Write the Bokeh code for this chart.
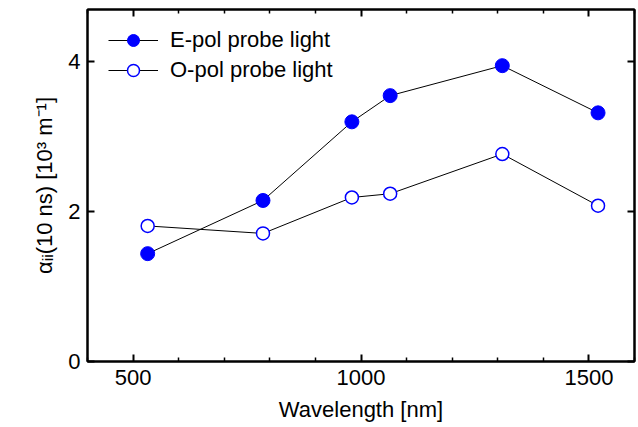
from bokeh.plotting import figure
from bokeh.models import LinearAxis, Range1d, FixedTicker, Legend, LegendItem
from bokeh.embed import file_html
from bokeh.resources import INLINE

wavelength = [532, 785, 980, 1064, 1310, 1520]
e_pol = [1.44, 2.15, 3.20, 3.55, 3.95, 3.32]
o_pol = [1.81, 1.71, 2.19, 2.24, 2.77, 2.08]
x_ticks = [500, 1000, 1500]
x_minor = [400, 600, 700, 800, 900, 1100, 1200, 1300, 1400, 1600]
y_ticks = [0, 2, 4]

FONT = "Liberation Sans"
FS = "22px"
p = figure(width=638, height=427, output_backend="svg", toolbar_location=None,
           x_range=Range1d(400, 1600), y_range=Range1d(0, 4.7),
           min_border_left=87, min_border_right=4, min_border_top=9, min_border_bottom=66)
p.xgrid.visible = False
p.ygrid.visible = False
p.outline_line_color = "black"
p.outline_line_width = 2

def style(ax, labels=True):
    ax.axis_line_width = 2
    ax.major_tick_in = 7
    ax.major_tick_out = 0
    ax.minor_tick_in = 4
    ax.minor_tick_out = 0
    ax.major_tick_line_width = 2
    ax.minor_tick_line_width = 1.5
    ax.major_label_text_font = FONT
    ax.major_label_text_font_size = FS
    ax.major_label_text_color = "black"
    ax.axis_label_text_font = FONT
    ax.axis_label_text_font_size = FS
    ax.axis_label_text_color = "black"
    ax.axis_label_text_font_style = "normal"
    if not labels:
        ax.major_label_text_font_size = "0px"
        ax.major_label_text_alpha = 0

p.xaxis.ticker = FixedTicker(ticks=x_ticks, minor_ticks=x_minor)
p.yaxis.ticker = FixedTicker(ticks=y_ticks, minor_ticks=[])
style(p.xaxis[0])
style(p.yaxis[0])
p.xaxis.axis_label = "Wavelength [nm]"
p.yaxis.axis_label = "αᵢᵢ(10 ns) [10³ m⁻¹]"
p.xaxis.major_label_standoff = 8
p.yaxis.major_label_standoff = 7
p.xaxis.axis_label_standoff = 9
p.yaxis.axis_label_standoff = 8

ra = LinearAxis(ticker=FixedTicker(ticks=y_ticks, minor_ticks=[]))
style(ra, labels=False)
p.add_layout(ra, "right")
ta = LinearAxis(ticker=FixedTicker(ticks=x_ticks, minor_ticks=x_minor))
style(ta, labels=False)
p.add_layout(ta, "above")

le = p.line(wavelength, e_pol, line_color="black", line_width=1)
se = p.scatter(wavelength, e_pol, size=14, fill_color="blue", line_color="blue")
lo = p.line(wavelength, o_pol, line_color="black", line_width=1)
so = p.scatter(wavelength, o_pol, size=13, fill_color="white", line_color="blue", line_width=1.5)

legend = Legend(items=[LegendItem(label="E-pol probe light", renderers=[le, se]),
                       LegendItem(label="O-pol probe light", renderers=[lo, so])],
                location=(21, 276), border_line_alpha=0, background_fill_alpha=0,
                label_text_font=FONT, label_text_font_size=FS, label_text_color="black",
                glyph_width=50, glyph_height=30, label_height=30,
                spacing=0, padding=0, margin=0, label_standoff=12)
p.add_layout(legend)

open("out.html", "w").write(file_html(p, INLINE))
